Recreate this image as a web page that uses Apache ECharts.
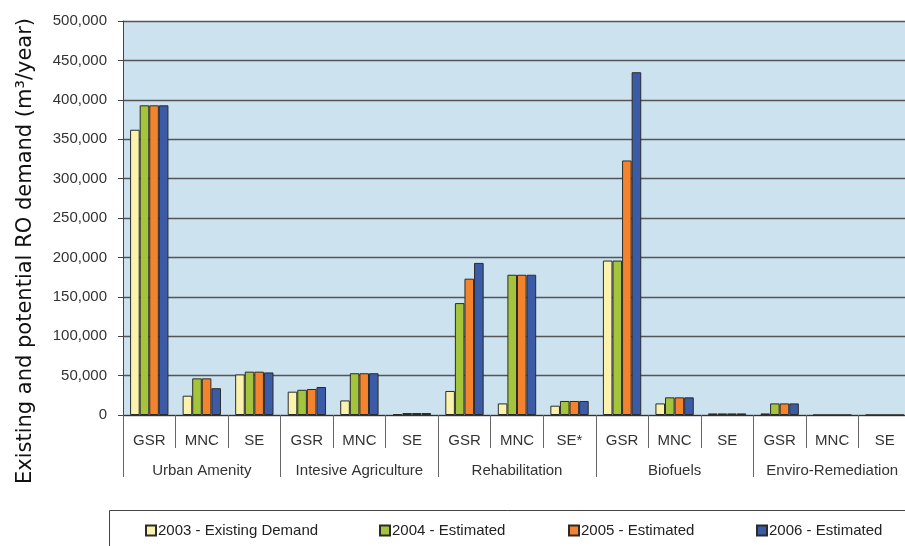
<!DOCTYPE html>
<html>
<head>
<meta charset="utf-8">
<script src="https://cdn.jsdelivr.net/npm/echarts@6/dist/echarts.min.js"></script>
<style>html,body{margin:0;padding:0;background:#fff;}#c{width:905px;height:546px;}</style>
</head>
<body>
<div id="c"></div>
<script>
var subCategories = ['GSR','MNC','SE','GSR','MNC','SE','GSR','MNC','SE*','GSR','MNC','SE','GSR','MNC','SE'];
var groups = ['Urban Amenity','Intesive Agriculture','Rehabilitation','Biofuels','Enviro-Remediation'];
var seriesNames = ['2003 - Existing Demand','2004 - Estimated','2005 - Estimated','2006 - Estimated'];
var d2003 = [362000, 24500, 51500, 29600, 18500, 1000, 30500, 14700, 11800, 196000, 14700, 2000, 2000, 0, 0];
var d2004 = [393000, 46500, 55000, 32000, 53000, 2500, 142000, 178000, 17800, 196000, 22400, 2000, 14700, 0, 0];
var d2005 = [393000, 46500, 55000, 33000, 53000, 2500, 173000, 178000, 17800, 323000, 22400, 2000, 14700, 0, 0];
var d2006 = [393000, 34000, 54000, 35500, 53000, 2500, 193000, 178000, 17800, 435000, 22400, 2000, 14700, 0, 0];
var yTicks = {min: 0, max: 500000, interval: 50000};
var colors = ['#FBF2AE','#A3C43B','#F4832E','#3B5BA6'];

var allData = [d2003, d2004, d2005, d2006];
var series = seriesNames.map(function(n, i){
  return {
    name: n, type: 'bar', data: allData[i], xAxisIndex: 0,
    barGap: '0%', barCategoryGap: '27%',
    itemStyle: {color: colors[i], borderColor: '#2b2b2b', borderWidth: 1},
    emphasis: {disabled: true}
  };
});

var legendLefts = [145, 379, 568, 756];
var legends = seriesNames.map(function(n, i){
  return {
    data: [n], left: legendLefts[i], top: 523, padding: 0,
    itemWidth: 10, itemHeight: 10, icon: 'rect', selectedMode: false,
    textStyle: {fontSize: 15, color: '#222', padding: [0, 0, 0, -3], fontFamily: 'Liberation Sans, Arial, sans-serif'}
  };
});

var chart = echarts.init(document.getElementById('c'), null, {renderer: 'canvas'});
chart.setOption({
  animation: false,
  textStyle: {fontFamily: 'Liberation Sans, Arial, sans-serif'},
  grid: {left: 123, top: 21, bottom: 131, right: -6, show: true, backgroundColor: '#CCE2EF', borderWidth: 0,
         outerBoundsMode: 'none', containLabel: false},
  legend: legends,
  graphic: [{
    type: 'rect', left: 109, top: 510, z: -1,
    shape: {width: 820, height: 50},
    style: {fill: '#fff', stroke: '#444', lineWidth: 1}
  }],
  xAxis: [
    {
      type: 'category', data: subCategories, position: 'bottom',
      axisLine: {show: true, lineStyle: {color: '#333', width: 1}},
      axisTick: {show: true, length: 33, interval: 0, lineStyle: {color: '#666'}},
      axisLabel: {interval: 0, margin: 18, fontSize: 15, color: '#333'},
      splitLine: {show: false}
    },
    {
      type: 'category', data: groups, position: 'bottom',
      axisLine: {show: false},
      axisTick: {show: true, length: 62, interval: 0, lineStyle: {color: '#666'}},
      axisLabel: {interval: 0, margin: 48, fontSize: 15, color: '#333'},
      splitLine: {show: false}
    }
  ],
  yAxis: {
    type: 'value', min: yTicks.min, max: yTicks.max, interval: yTicks.interval,
    name: 'Existing and potential RO demand (m³/year)',
    nameLocation: 'middle', nameGap: 87, nameRotate: 90,
    nameTextStyle: {fontSize: 21, color: '#111', fontFamily: 'DejaVu Sans', padding: [0, 66, 0, 0]},
    axisLine: {show: true, lineStyle: {color: '#444'}},
    axisTick: {show: true, length: 5, lineStyle: {color: '#444'}},
    axisLabel: {fontSize: 15, color: '#333', margin: 16,
      formatter: function(v){ return v.toString().replace(/\B(?=(\d{3})+(?!\d))/g, ','); }},
    splitLine: {show: true, lineStyle: {color: '#555', width: 1.3}}
  },
  series: series
});
</script>
</body>
</html>
